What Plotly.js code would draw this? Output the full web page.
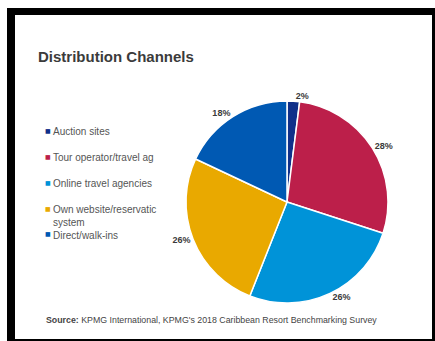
<!DOCTYPE html>
<html>
<head>
<meta charset="utf-8">
<script src="https://cdn.plot.ly/plotly-3.0.1.min.js"></script>
<style>
  html, body { margin: 0; padding: 0; background: #ffffff; }
  #chart { width: 435px; height: 341px; }
</style>
</head>
<body>
<div id="chart"></div>
<script>
// ---- data ----
const categories = [
  "Auction sites",
  "Tour operator/travel ag",
  "Online travel agencies",
  "Own website/reservatic<br>system",
  "Direct/walk-ins"
];
const shares = [2, 28, 26, 26, 18];
const colors = ["#10308a", "#bc1f4a", "#0093d8", "#e9a900", "#0059b3"];
const chartTitle = "Distribution Channels";
const sourceText = "<b>Source:</b> KPMG International, KPMG's 2018 Caribbean Resort Benchmarking Survey";

// ---- helpers: pixel -> paper (margins are zero) ----
const W = 435, H = 341;
const px = x => x / W;
const py = y => 1 - y / H;

const pie = {
  type: "pie",
  labels: categories,
  values: shares,
  sort: false,
  direction: "clockwise",
  rotation: 0,
  marker: { colors: colors, line: { color: "#ffffff", width: 1.5 } },
  texttemplate: "<b>%{value}%</b>",
  textposition: "outside",
  outsidetextfont: { family: "Liberation Sans, Arial, sans-serif", size: 9, color: "#3a3a3a" },
  hoverinfo: "label+percent",
  domain: { x: [px(186), px(388)], y: [py(303), py(101)] },
  showlegend: false
};

// legend built from the category arrays
const annotations = [];
const legendTop = 130, legendStep = 26;
categories.forEach((c, i) => {
  const yc = legendTop + legendStep * i;
  annotations.push({
    xref: "paper", yref: "paper", x: px(43), y: py(yc), xanchor: "left", yanchor: "middle",
    text: "■", showarrow: false, font: { family: "DejaVu Sans", size: 6, color: colors[i] }
  });
  annotations.push({
    xref: "paper", yref: "paper", x: px(51), y: py(yc - 6.5), xanchor: "left", yanchor: "top",
    align: "left", text: c, showarrow: false,
    font: { family: "Liberation Sans, Arial, sans-serif", size: 10, color: "#555555" }
  });
});
annotations.push({
  xref: "paper", yref: "paper", x: px(36), y: py(57), xanchor: "left", yanchor: "middle",
  text: "<b>" + chartTitle + "</b>", showarrow: false,
  font: { family: "Liberation Sans, Arial, sans-serif", size: 15, color: "#3b3b3b" }
});
annotations.push({
  xref: "paper", yref: "paper", x: px(44), y: py(320), xanchor: "left", yanchor: "middle",
  text: sourceText, showarrow: false,
  font: { family: "Liberation Sans, Arial, sans-serif", size: 8.8, color: "#444444" }
});

const frame = [
  { x0: 7, x1: 15, y0: 8, y1: 341 },    // left
  { x0: 7, x1: 435, y0: 8, y1: 15 },    // top
  { x0: 432, x1: 435, y0: 8, y1: 341 }, // right
  { x0: 7, x1: 435, y0: 339, y1: 341 }  // bottom
];
const shapes = frame.map(f => ({
  type: "rect", xref: "paper", yref: "paper",
  x0: px(f.x0), x1: px(f.x1), y0: py(f.y1), y1: py(f.y0),
  fillcolor: "#000000", line: { width: 0 }, layer: "above"
}));

const layout = {
  width: W, height: H,
  margin: { l: 0, r: 0, t: 0, b: 0 },
  paper_bgcolor: "#ffffff",
  showlegend: false,
  annotations: annotations,
  shapes: shapes
};

Plotly.newPlot("chart", [pie], layout, { displayModeBar: false, staticPlot: true });
</script>
</body>
</html>
